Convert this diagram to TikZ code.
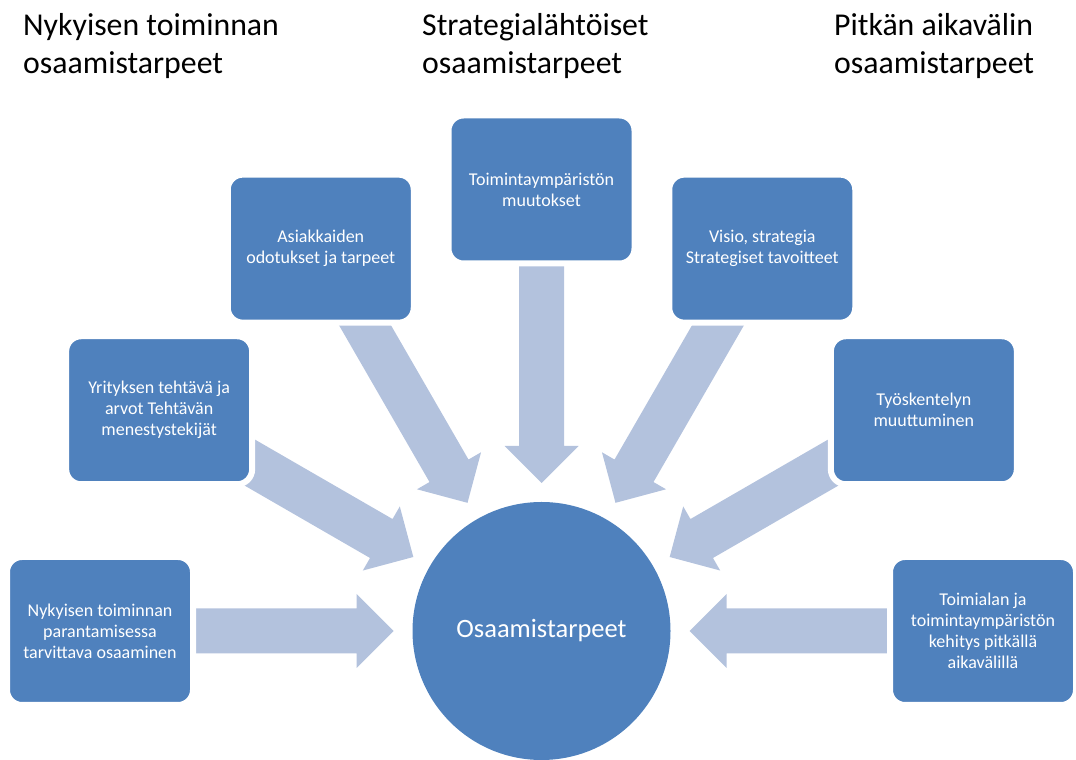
\documentclass[tikz,border=0pt]{standalone}
\usepackage{fontspec}
\setmainfont{Carlito}
\usetikzlibrary{calc,backgrounds}

\definecolor{laatikko}{RGB}{79,129,189}
\definecolor{nuolivari}{RGB}{179,194,221}

\tikzset{
	tarvebox/.style={rectangle, rounded corners=15pt, fill=laatikko, draw=white, line width=6pt,
		minimum width=186pt, minimum height=148pt, text=white, align=center,
		font=\fontsize{18}{21}\selectfont},
	otsikko/.style={anchor=north west, inner sep=0pt, align=left, font=\fontsize{31.8}{38}\selectfont},
	nuoli/.style={fill=nuolivari, draw=none}
}

\begin{document}
\begin{tikzpicture}[x=1pt, y=1pt]
		\def\cx{541.5} % Centre of the circle on the x-axis
		\def\cy{129}   % Centre of the circle on the y-axis
		\def\rad{441.5} % Distance from the centre to each box
		\def\tip{148pt}  % Distance from the centre to an arrow tip
		\def\head{185pt} % Distance from the centre to the back of the head
		\def\tail{400pt} % Arrow end, hidden under the box
		\def\hw{37pt}    % Half width of the head
		\def\sw{22.5pt}  % Half width of the shaft
		
		\useasboundingbox (0,0) rectangle (1076,760);
		
		\node[circle, fill=laatikko, minimum size=258pt, inner sep=0pt, text=white,
		font=\fontsize{26.5}{31}\selectfont] (osaam) at (\cx,\cy) {Osaamistarpeet};
		
		% Draw each box round the circle
		\foreach \i/\ang/\teksti in {1/180/{Nykyisen toiminnan\\parantamisessa\\tarvittava osaaminen},
			2/150/{Yrityksen tehtävä ja\\arvot Tehtävän\\menestystekijät},
			3/120/{Asiakkaiden\\odotukset ja tarpeet},
			4/90/{Toimintaympäristön\\muutokset},
			5/60/{Visio, strategia\\Strategiset tavoitteet},
			6/30/{Työskentelyn\\muuttuminen},
			7/0/{Toimialan ja\\toimintaympäristön\\kehitys pitkällä\\aikavälillä}} {
			\node[tarvebox] (b\i) at ($(osaam.center)+(\ang:\rad)$) {\teksti};
		}
		
		% Block arrows from the boxes to the circle, under the boxes
		\begin{scope}[on background layer]
			\foreach \i in {1,...,7} {
				\fill[nuoli] ($(osaam.center)!\tip!(b\i.center)$)
				-- ($(osaam.center)!\head!(b\i.center)!\hw!90:(b\i.center)$)
				-- ($(osaam.center)!\head!(b\i.center)!\sw!90:(b\i.center)$)
				-- ($(osaam.center)!\tail!(b\i.center)!\sw!90:(b\i.center)$)
				-- ($(osaam.center)!\tail!(b\i.center)!\sw!-90:(b\i.center)$)
				-- ($(osaam.center)!\head!(b\i.center)!\sw!-90:(b\i.center)$)
				-- ($(osaam.center)!\head!(b\i.center)!\hw!-90:(b\i.center)$)
				-- cycle;
			}
		\end{scope}
		
		\node[otsikko] (h1) at (23,747) {Nykyisen toiminnan\\osaamistarpeet};
		\node[otsikko] (h2) at (422,747) {Strategialähtöiset\\osaamistarpeet};
		\node[otsikko] (h3) at (834,747) {Pitkän aikavälin\\osaamistarpeet};
	\end{tikzpicture}
\end{document}
